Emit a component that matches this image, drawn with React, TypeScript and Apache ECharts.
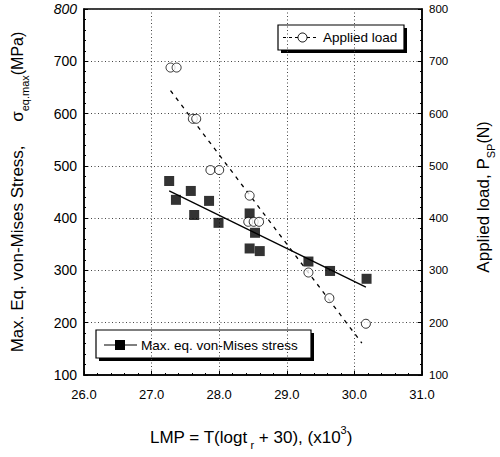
import React, { useEffect, useRef } from "react";
import * as echarts from "echarts";

// ---- data ----
const stressX = [27.26, 27.36, 27.58, 27.63, 27.85, 27.99, 28.45, 28.53, 28.45, 28.6, 29.32, 29.64, 30.18];
const stressY = [471, 435, 452, 406, 433, 391, 409, 372, 342, 337, 317, 299, 284];
const loadX = [27.28, 27.37, 27.61, 27.66, 27.87, 28.0, 28.45, 28.43, 28.51, 28.59, 29.32, 29.63, 30.17];
const loadY = [688, 688, 590, 590, 492, 492, 443, 393, 393, 393, 296, 247, 198];
const stressFitX = [27.26, 30.17];
const stressFitY = [452, 268];
const loadFitX = [27.28, 30.11];
const loadFitY = [644, 161];
const xTicks = [26, 27, 28, 29, 30, 31];
const yTicks = [100, 200, 300, 400, 500, 600, 700, 800];

const FONT = "'Liberation Sans', Arial, Helvetica, sans-serif";

const zip = (xs: number[], ys: number[]) => xs.map((x, i) => [x, ys[i]]);

export default function App() {
  const ref = useRef<HTMLDivElement>(null);
  useEffect(() => {
    if (!ref.current) return;
    const chart = echarts.init(ref.current, undefined, { renderer: "svg" });
    const gridLine = { show: true, lineStyle: { color: "#444", type: [1, 2.5] as any, width: 1 } };
    const richTitle = {
      m: { fontSize: 17, lineHeight: 26, fontFamily: FONT, fill: "#000" },
      u: { fontSize: 16, lineHeight: 26, fontFamily: FONT, fill: "#000" },
      s: { fontSize: 11, lineHeight: 12, verticalAlign: "bottom", fontFamily: FONT, fill: "#000" },
      p: { fontSize: 11, lineHeight: 12, verticalAlign: "top", fontFamily: FONT, fill: "#000" },
    };
    const yAxisBase = {
      type: "value",
      min: yTicks[0],
      max: yTicks[yTicks.length - 1],
      interval: 100,
      axisLine: { show: true, lineStyle: { color: "#000", width: 1.5 } },
      axisTick: { show: true, inside: true, length: 4, lineStyle: { color: "#000" } },
      minorTick: { show: true, splitNumber: 5, length: 2, lineStyle: { color: "#000" } },
    };
    chart.setOption({
      animation: false,
      backgroundColor: "#fff",
      grid: {
        left: 84,
        right: 78,
        top: 9,
        bottom: 82,
        show: true,
        borderColor: "#000",
        borderWidth: 1.5,
        backgroundColor: "transparent",
      },
      xAxis: {
        type: "value",
        min: xTicks[0],
        max: xTicks[xTicks.length - 1],
        interval: 1,
        axisLine: { show: true, lineStyle: { color: "#000", width: 1.5 } },
        axisTick: { show: true, inside: true, length: 4, lineStyle: { color: "#000" } },
        minorTick: { show: true, splitNumber: 5, length: 2, lineStyle: { color: "#000" } },
        axisLabel: {
          formatter: (v: number) => v.toFixed(1),
          color: "#000",
          fontSize: 13,
          fontFamily: FONT,
          margin: 13,
        },
        splitLine: gridLine,
      },
      yAxis: [
        {
          ...yAxisBase,
          position: "left",
          axisLabel: {
            color: "#000",
            fontSize: 14,
            fontFamily: FONT,
            margin: 7,
            formatter: (v: number) => (v === 800 ? `{it|${v}}` : `${v}`),
            rich: { it: { fontStyle: "italic", fontSize: 14, fontFamily: FONT, color: "#000" } },
          },
          splitLine: gridLine,
        },
        {
          ...yAxisBase,
          position: "right",
          axisLabel: { color: "#000", fontSize: 11.5, fontFamily: FONT, margin: 7 },
          splitLine: { show: false },
        },
      ],
      series: [
        {
          name: "Max. eq. von-Mises stress",
          type: "scatter",
          yAxisIndex: 0,
          symbol: "rect",
          symbolSize: 10,
          itemStyle: { color: "#000" },
          data: zip(stressX, stressY),
          z: 5,
        },
        {
          name: "Applied load",
          type: "scatter",
          yAxisIndex: 1,
          symbol: "circle",
          symbolSize: 9,
          itemStyle: { color: "#fff", borderColor: "#000", borderWidth: 1 },
          data: zip(loadX, loadY),
          z: 5,
        },
        {
          name: "stress fit",
          type: "line",
          yAxisIndex: 0,
          showSymbol: false,
          symbol: "none",
          lineStyle: { color: "#000", width: 1.3 },
          data: zip(stressFitX, stressFitY),
          z: 4,
        },
        {
          name: "load fit",
          type: "line",
          yAxisIndex: 1,
          showSymbol: false,
          symbol: "none",
          lineStyle: { color: "#000", width: 1.3, type: [4, 5] },
          data: zip(loadFitX, loadFitY),
          z: 4,
        },
      ],
      graphic: [
        // left axis title
        {
          type: "text",
          x: 17,
          y: 192,
          rotation: Math.PI / 2,
          style: {
            text: "{m|Max. Eq. von-Mises Stress,     σ}{s|eq.max}{u|(MPa)}",
            rich: richTitle,
            align: "center",
            verticalAlign: "middle",
          },
        },
        // right axis title
        {
          type: "text",
          x: 483,
          y: 197,
          rotation: Math.PI / 2,
          style: {
            text: "{m|Applied load, P}{s|SP}{u|(N)}",
            rich: richTitle,
            align: "center",
            verticalAlign: "middle",
          },
        },
        // x axis title
        {
          type: "text",
          x: 251,
          y: 437,
          style: {
            text: "{m|LMP = T(logt}{s| r}{m| + 30), (x10}{p|3}{m|)}",
            rich: richTitle,
            align: "center",
            verticalAlign: "middle",
          },
        },
        // legend: applied load
        {
          type: "group",
          z: 100,
          children: [
            { type: "rect", shape: { x: 281, y: 28, width: 126, height: 25 }, style: { fill: "#000" } },
            { type: "rect", shape: { x: 278, y: 25, width: 126, height: 25 }, style: { fill: "#fff", stroke: "#000", lineWidth: 1.2 } },
            { type: "line", shape: { x1: 283, y1: 37.5, x2: 318, y2: 37.5 }, style: { stroke: "#000", lineWidth: 1.2, lineDash: [3, 3] } },
            { type: "circle", shape: { cx: 302.5, cy: 37.5, r: 4.5 }, style: { fill: "#fff", stroke: "#000", lineWidth: 1 } },
            {
              type: "text",
              x: 323,
              y: 37.5,
              style: { text: "Applied load", fontSize: 13.5, fontFamily: FONT, fill: "#000", align: "left", verticalAlign: "middle" },
            },
          ],
        },
        // legend: stress
        {
          type: "group",
          z: 100,
          children: [
            { type: "rect", shape: { x: 99, y: 333, width: 215, height: 28 }, style: { fill: "#000" } },
            { type: "rect", shape: { x: 96, y: 330, width: 215, height: 28 }, style: { fill: "#fff", stroke: "#000", lineWidth: 1.2 } },
            { type: "line", shape: { x1: 104, y1: 345, x2: 137, y2: 345 }, style: { stroke: "#000", lineWidth: 1.2 } },
            { type: "rect", shape: { x: 115, y: 340, width: 10, height: 10 }, style: { fill: "#000" } },
            {
              type: "text",
              x: 141,
              y: 345,
              style: { text: "Max. eq. von-Mises stress", fontSize: 13.5, fontFamily: FONT, fill: "#000", align: "left", verticalAlign: "middle" },
            },
          ],
        },
      ],
    });
    return () => chart.dispose();
  }, []);
  return (
    <div
      ref={ref}
      style={{ position: "absolute", left: 0, top: 0, width: 500, height: 457 }}
    />
  );
}
